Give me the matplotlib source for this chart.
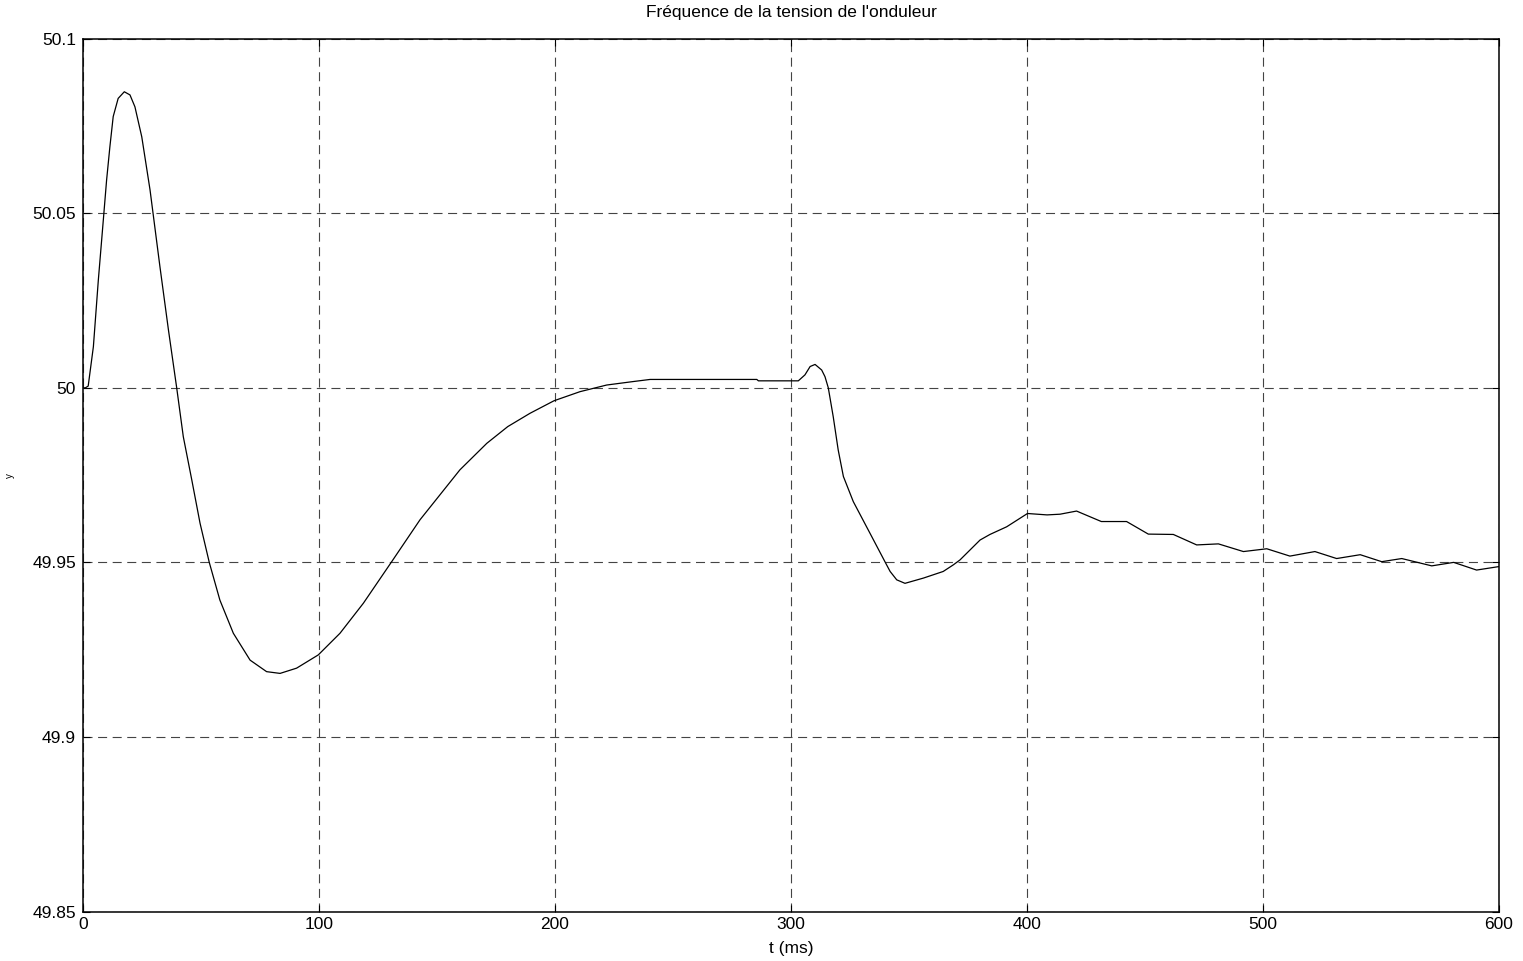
import numpy as np
import matplotlib
matplotlib.use("Agg")
import matplotlib.pyplot as plt

# temps (ms) et fréquence (Hz)
t_ms = [0, 1, 2.2, 4.4, 6.5, 8.6, 10.0, 11.4, 12.8, 14.9, 17.5, 19.9, 22.0,
        24.9, 28.4, 32.6, 36.2, 39.7, 42.5, 46.1, 49.6, 53.5, 58, 63.7, 70.8,
        77.8, 83.5, 90.5, 99.7, 108.9, 118.8, 130.8, 142.8, 159.7, 171.1, 180,
        189.4, 199.6, 210.6, 221.9, 233.2, 240.3, 285.5, 286.2, 303.1, 305.9,
        308.1, 310.2, 313, 314.4, 315.8, 317.9, 320.0, 322.2, 326.4, 333.5,
        339.8, 342, 344.8, 348.3, 356.1, 364.5, 368.8, 371.6, 380.1, 384.3,
        391.4, 400.2, 408.5, 414, 421, 431.5, 442.2, 451.4, 462, 471.9, 481.1,
        491.7, 501.6, 511.4, 522, 531.2, 541.2, 550.3, 558.8, 571.5, 580.8,
        590.5, 600]
freq = [50.000, 50.000, 50.0005, 50.0118, 50.0309, 50.048, 50.0595, 50.0691,
        50.0777, 50.0829, 50.0848, 50.0839, 50.0805, 50.0719, 50.0567, 50.0347,
        50.0166, 50.000, 49.986, 49.9736, 49.9612, 49.950, 49.9392, 49.9297,
        49.922, 49.9187, 49.9182, 49.9197, 49.9235, 49.9297, 49.9383, 49.9502,
        49.9622, 49.9765, 49.9841, 49.9889, 49.9927, 49.9963, 49.9989, 50.0008,
        50.0018, 50.0024, 50.0024, 50.0020, 50.0020, 50.0037, 50.0061, 50.0067,
        50.0051, 50.0032, 50.000, 49.9917, 49.9822, 49.9746, 49.9674, 49.9583,
        49.9502, 49.9474, 49.945, 49.944, 49.9455, 49.9474, 49.9493, 49.9507,
        49.9564, 49.958, 49.9602, 49.964, 49.9636, 49.9638, 49.9647, 49.9617,
        49.9617, 49.9581, 49.958, 49.955, 49.9553, 49.9531, 49.9539, 49.9518,
        49.9531, 49.9511, 49.9522, 49.9502, 49.9511, 49.949, 49.950, 49.9478,
        49.9488]

x_ticks = [0, 100, 200, 300, 400, 500, 600]
y_ticks = [49.85, 49.9, 49.95, 50, 50.05, 50.1]
y_tick_labels = ["49.85", "49.9", "49.95", "50", "50.05", "50.1"]

plt.rcParams['font.family'] = ['Liberation Sans', 'DejaVu Sans']
plt.rcParams['lines.scale_dashes'] = False

fig = plt.figure(figsize=(15.23, 9.61), dpi=100)
ax = fig.add_axes([83 / 1523, 1 - 911.5 / 961, 1416 / 1523, 872.8 / 961])

ax.plot(t_ms, freq, color='black', linewidth=0.9)

ax.set_xlim(0, 600)
ax.set_ylim(49.85, 50.1)
ax.set_xticks(x_ticks)
ax.set_xticklabels([str(v) for v in x_ticks])
ax.set_yticks(y_ticks)
ax.set_yticklabels(y_tick_labels)

ax.tick_params(direction='in', length=5, width=0.8, labelsize=12.5,
               top=True, right=True, pad=4)
ax.tick_params(axis='y', pad=5)
for sp in ax.spines.values():
    sp.set_linewidth(1.1)

ax.grid(True, color='#444444', linewidth=0.8, linestyle=(0, (6.5, 4)))

fig.text(791 / 1523, 1 - 13 / 961, "Fréquence de la tension de l'onduleur",
         ha='center', va='center', fontsize=12.5)
ax.set_xlabel("t (ms)", fontsize=12.5)
ax.xaxis.set_label_coords(0.5, -0.034)
ax.set_ylabel("y", fontsize=7)
ax.yaxis.set_label_coords(-0.048, 0.5)

fig.savefig("out.png", dpi=100)
